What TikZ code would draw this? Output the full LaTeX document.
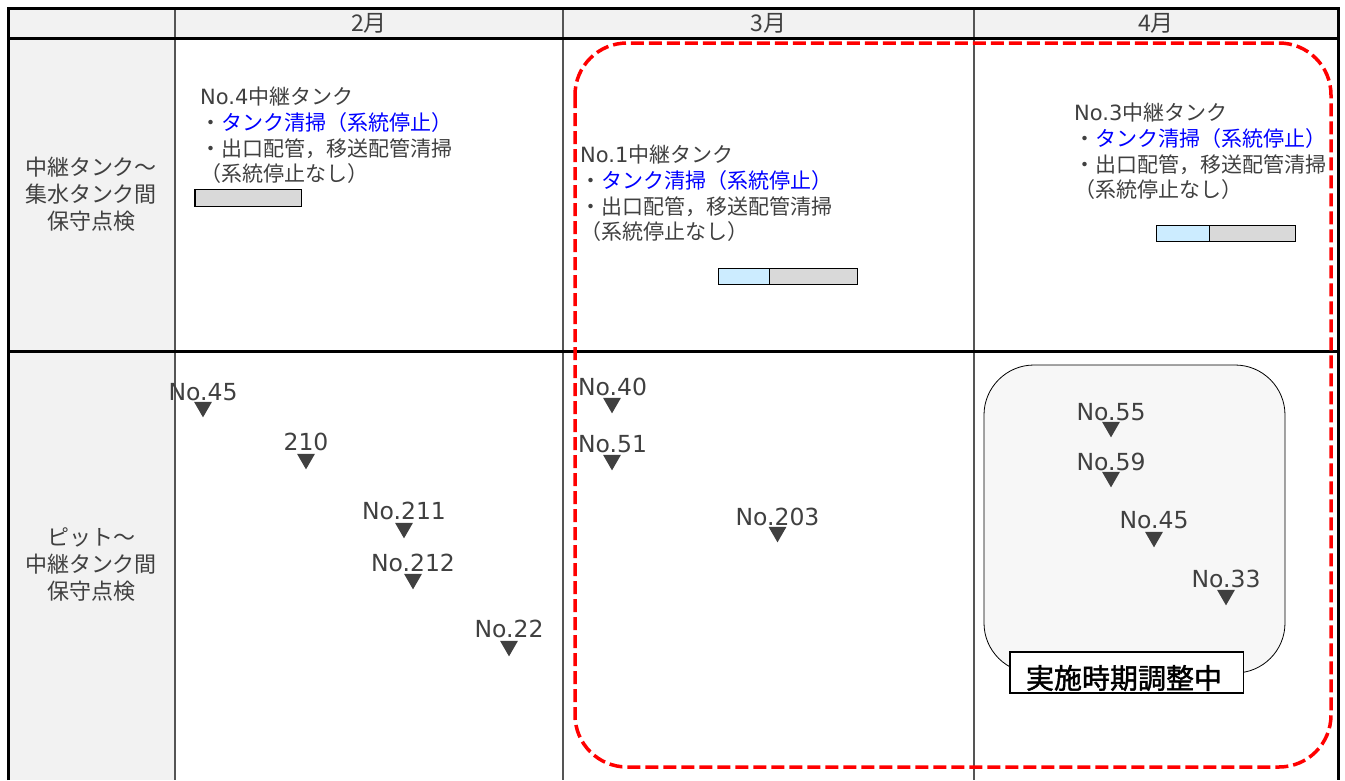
\documentclass[tikz,border=0pt]{standalone}
\usepackage{fontspec}
\setmainfont{Noto Sans CJK JP}
\newfontfamily\lat{DejaVu Sans}
\newfontfamily\jpbold[FakeBold=1.5]{Noto Sans CJK JP}
\usetikzlibrary{shapes.geometric}
\definecolor{txt}{HTML}{404040}
\definecolor{hdrgray}{HTML}{F2F2F2}
\definecolor{bargray}{HTML}{D9D9D9}
\definecolor{barblue}{HTML}{CCECFF}
\definecolor{pendgray}{HTML}{F7F7F7}
\definecolor{tblue}{HTML}{0000FF}
\definecolor{rd}{HTML}{FF0000}
\definecolor{gridgray}{HTML}{555555}
\tikzset{
  uptext/.style={anchor=north west, inner sep=0pt, align=left, text=txt, font=\fontsize{21}{25.7}\selectfont},
  rowlab/.style={inner sep=0pt, align=center, text=txt, font=\fontsize{22}{27}\selectfont},
  hdrlab/.style={inner sep=0pt, text=txt, font=\fontsize{23}{26}\selectfont},
  pitlab/.style={inner sep=0pt, text=txt, font=\lat\fontsize{23.5}{28}\selectfont},
  pittri/.style={regular polygon, regular polygon sides=3, shape border rotate=180, minimum size=20.5pt, inner sep=0pt, fill=txt},
  barbox/.style={draw=black, line width=1.2pt, inner sep=0pt, anchor=north west},
  thickline/.style={line width=3pt, black},
  gridline/.style={line width=1.2pt, gridgray},
  reddash/.style={draw=rd, line width=3.5pt, dash pattern=on 13pt off 5pt, rounded corners=52pt}
}
\begin{document}
\begin{tikzpicture}[x=1pt,y=-1pt]
\useasboundingbox (0,0) rectangle (1345,780);
% fills
\fill[hdrgray] (8,8) rectangle (1338,38);
\fill[hdrgray] (8,38) rectangle (175,780);
% grid
\draw[gridline] (175,8) -- (175,780);
\draw[gridline] (563,8) -- (563,780);
\draw[gridline] (974,8) -- (974,780);
\draw[thickline] (8,38) -- (1338,38);
\draw[thickline] (8,351) -- (1338,351);
\draw[thickline] (8,780) -- (8,8) -- (1338,8) -- (1338,780);
% headers
\node[hdrlab] (h2) at (369,23) {2月};
\node[hdrlab] (h3) at (768.5,23) {3月};
\node[hdrlab] (h4) at (1156,23) {4月};
% row labels
\node[rowlab] (r1) at (91,194) {中継タンク～\\集水タンク間\\保守点検};
\node[rowlab] (r2) at (91,565) {ピット～\\中継タンク間\\保守点検};
% upper texts
\node[uptext] (t4) at (200,87) {{\lat No.4}中継タンク\\・\textcolor{tblue}{タンク清掃（系統停止）}\\・出口配管，移送配管清掃\\（系統停止なし）};
\node[uptext] (t1) at (580,145) {{\lat No.1}中継タンク\\・\textcolor{tblue}{タンク清掃（系統停止）}\\・出口配管，移送配管清掃\\（系統停止なし）};
\node[uptext] (t3) at (1074,103) {{\lat No.3}中継タンク\\・\textcolor{tblue}{タンク清掃（系統停止）}\\・出口配管，移送配管清掃\\（系統停止なし）};
% bars
\node[barbox, fill=bargray, minimum width=106.6pt, minimum height=16.5pt] (b4g) at (194.4,189) {};
\node[barbox, fill=barblue, minimum width=51.5pt, minimum height=16.5pt] (b1b) at (717.5,267.5) {};
\node[barbox, fill=bargray, minimum width=87.5pt, minimum height=16.5pt] (b1g) at (769,267.5) {};
\node[barbox, fill=barblue, minimum width=53pt, minimum height=16.5pt] (b3b) at (1156,224.5) {};
\node[barbox, fill=bargray, minimum width=86pt, minimum height=16.5pt] (b3g) at (1209,224.5) {};
% pending box
\node[draw=black, line width=0.8pt, fill=pendgray, rounded corners=50pt, minimum width=301pt, minimum height=308pt, inner sep=0pt] (pend) at (1134.5,519) {};
% pit labels and triangles (February)
\node[pitlab] (l45) at (203,392) {No.45};
\node[pittri] (m45) at (203,407.1) {};
\node[pitlab] (l210) at (306,442) {210};
\node[pittri] (m210) at (306,459.1) {};
\node[pitlab] (l211) at (404,511) {No.211};
\node[pittri] (m211) at (404,528.1) {};
\node[pitlab] (l212) at (413,563) {No.212};
\node[pittri] (m212) at (413,579.1) {};
\node[pitlab] (l22) at (509,629) {No.22};
\node[pittri] (m22) at (509,646.1) {};
% March
\node[pitlab] (l40) at (612.5,387) {No.40};
\node[pittri] (m40) at (612,403.1) {};
\node[pitlab] (l51) at (612.5,444) {No.51};
\node[pittri] (m51) at (612,460.1) {};
\node[pitlab] (l203) at (777.5,517) {No.203};
\node[pittri] (m203) at (777.5,532.1) {};
% April
\node[pitlab] (l55) at (1111,412) {No.55};
\node[pittri] (m55) at (1111,427.1) {};
\node[pitlab] (l59) at (1111,462) {No.59};
\node[pittri] (m59) at (1111,477.1) {};
\node[pitlab] (l45b) at (1154,520) {No.45};
\node[pittri] (m45b) at (1154,537.1) {};
\node[pitlab] (l33) at (1226,579) {No.33};
\node[pittri] (m33) at (1226,595.1) {};
% adjusting label
\node[draw=black, fill=white, line width=1.2pt, minimum width=233.5pt, minimum height=41pt, inner sep=0pt] (adj) at (1126.75,672.5) {};
\node[inner sep=0pt, text=black, font=\jpbold\fontsize{28}{30}\selectfont] (adjtxt) at (1124,678) {実施時期調整中};
% red dashed frame
\draw[reddash] (575,43) rectangle (1331,767);
\end{tikzpicture}
\end{document}
